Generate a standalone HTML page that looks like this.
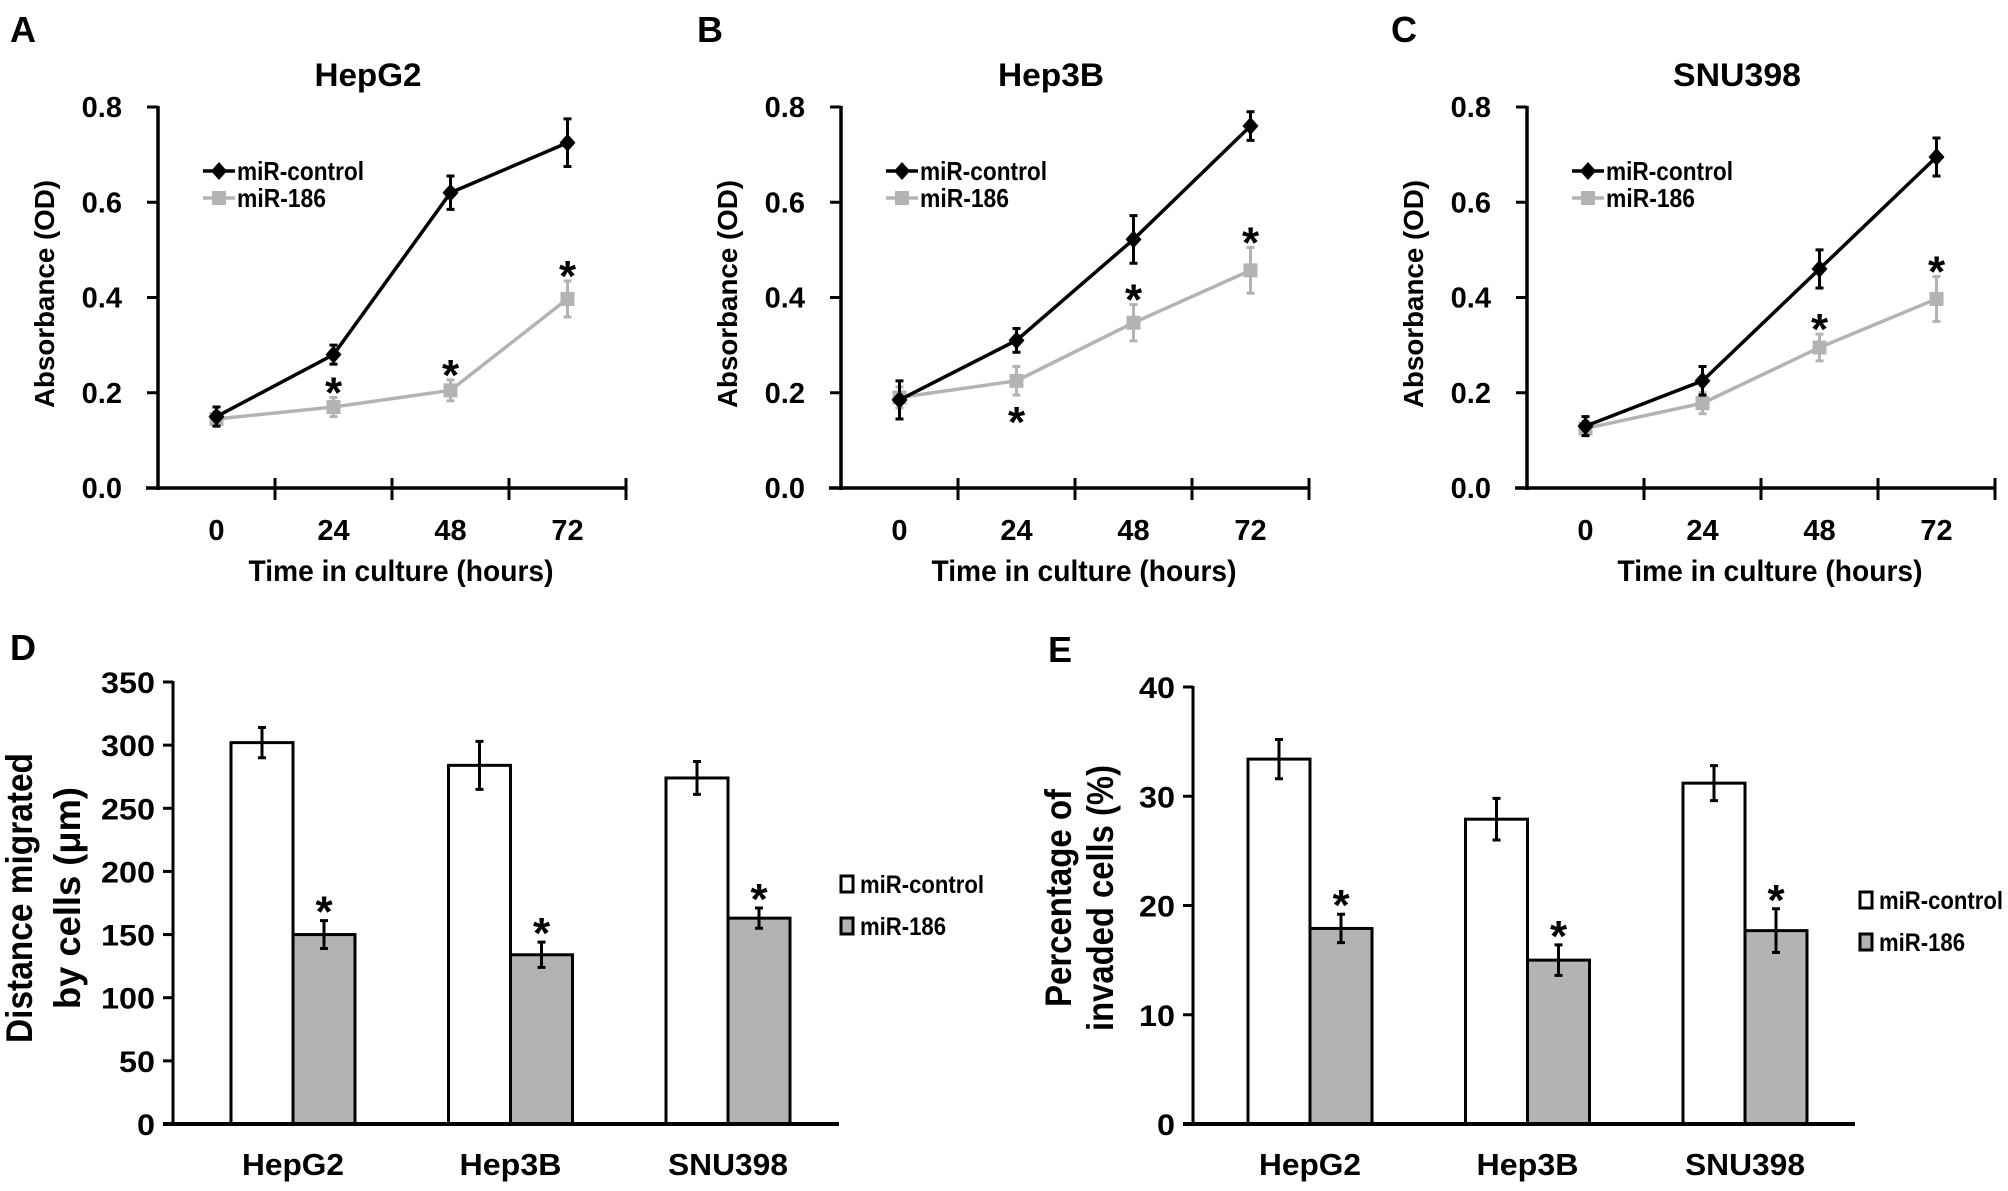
<!DOCTYPE html>
<html><head><meta charset="utf-8"><style>
html,body{margin:0;padding:0;background:#fff;}
svg{display:block;font-family:"Liberation Sans",sans-serif;font-weight:bold;}
</style></head><body>
<svg id="fig" width="2008" height="1191" viewBox="0 0 2008 1191" xmlns="http://www.w3.org/2000/svg"></svg>
<script>
// ---------- data ----------
const timeLabels = ['0','24','48','72'];
const absTickLabels = ['0.0','0.2','0.4','0.6','0.8'];
const absTickValues = [0,0.2,0.4,0.6,0.8];
const hepg2Control = [0.15,0.28,0.62,0.725];
const hepg2ControlErr = [0.02,0.02,0.035,0.05];
const hepg2Mir = [0.145,0.17,0.205,0.397];
const hepg2MirErr = [0.015,0.02,0.022,0.038];
const hepg2Stars = [0,1,1,1];
const hep3bControl = [0.185,0.31,0.522,0.76];
const hep3bControlErr = [0.04,0.025,0.05,0.03];
const hep3bMir = [0.19,0.225,0.347,0.457];
const hep3bMirErr = [0.022,0.03,0.038,0.048];
const hep3bStars = [0,-1,1,1];
const snu398Control = [0.13,0.225,0.46,0.695];
const snu398ControlErr = [0.02,0.03,0.04,0.04];
const snu398Mir = [0.125,0.178,0.295,0.397];
const snu398MirErr = [0.015,0.022,0.028,0.047];
const snu398Stars = [0,0,1,1];

const cellLines = ['HepG2','Hep3B','SNU398'];
const migTickValues = [0,50,100,150,200,250,300,350];
const migTickLabels = ['0','50','100','150','200','250','300','350'];
const migrationControl = [302,284,274];
const migrationControlErr = [12,19,13];
const migrationMir = [150,134,163];
const migrationMirErr = [11,10,8];
const invTickValues = [0,10,20,30,40];
const invTickLabels = ['0','10','20','30','40'];
const invasionControl = [33.4,27.9,31.2];
const invasionControlErr = [1.8,1.9,1.6];
const invasionMir = [17.9,15.0,17.7];
const invasionMirErr = [1.3,1.4,2.0];

const NS = 'http://www.w3.org/2000/svg';
const svg = document.getElementById('fig');
const GRAY = '#b3b3b3';
function mk(tag, attrs, parent, text){
  const e = document.createElementNS(NS, tag);
  for (const k in attrs) e.setAttribute(k, attrs[k]);
  if (text !== undefined) e.textContent = text;
  (parent || svg).appendChild(e);
  return e;
}
function label(txt, x, y, size, anchor, parent, len, rot){
  const a = {x:x, y:y, 'font-size':size, 'text-anchor':anchor||'middle', fill:'#000'};
  if (len) { a.textLength = len; a.lengthAdjust = 'spacingAndGlyphs'; }
  if (rot) a.transform = 'rotate(-90 '+x+' '+y+')';
  return mk('text', a, parent, txt);
}

// panel letters
[['A',10,42],['B',697,42],['C',1391,42],['D',10,660],['E',1048,662]].forEach(p=>{
  const t = label(p[0], p[1], p[2], 36, 'start');
  
  
});

// ---------- line charts ----------
const Y0 = 488, PER = 476.25;
function yAbs(v){ return Y0 - v*PER; }
const linePanels = [
  {name:'hepg2', title:'HepG2', ax:158, tw:107, ctrl:hepg2Control, ce:hepg2ControlErr, mir:hepg2Mir, me:hepg2MirErr, stars:hepg2Stars},
  {name:'hep3b', title:'Hep3B', ax:841, tw:106, ctrl:hep3bControl, ce:hep3bControlErr, mir:hep3bMir, me:hep3bMirErr, stars:hep3bStars},
  {name:'snu398', title:'SNU398', ax:1527, tw:128, ctrl:snu398Control, ce:snu398ControlErr, mir:snu398Mir, me:snu398MirErr, stars:snu398Stars}
];
linePanels.forEach(p=>{
  const g = mk('g', {});
  
  
  const W = 468, step = W/4;
  const xAt = i => p.ax + step*(i+0.5);
  const t = label(p.title, p.ax+210, 86, 32, 'middle', g, p.tw);
  
  
  const ya = mk('line', {x1:p.ax, y1:yAbs(0.8)-1, x2:p.ax, y2:Y0+2, stroke:'#000','stroke-width':3.5}, g);
  
  
  const xa = mk('line', {x1:p.ax-12, y1:Y0, x2:p.ax+W, y2:Y0, stroke:'#000','stroke-width':3.5}, g);
  
  
  absTickValues.forEach((v,i)=>{
    mk('line', {x1:p.ax-11, y1:yAbs(v), x2:p.ax, y2:yAbs(v), stroke:'#000','stroke-width':3}, g);
    const tl = label(absTickLabels[i], p.ax-36, yAbs(v)+10, 29, 'end', g);
    
    
  });
  for (let i=1;i<=4;i++){
    mk('line', {x1:p.ax+step*i, y1:Y0-10, x2:p.ax+step*i, y2:Y0+12, stroke:'#000','stroke-width':3}, g);
  }
  timeLabels.forEach((s,i)=>{
    const tl = label(s, xAt(i), 540, 29, 'middle', g);
    
    
  });
  const xt = label('Time in culture (hours)', p.ax+243, 581, 30, 'middle', g, 305);
  
  
  const yt = label('Absorbance (OD)', p.ax-104, 294, 28, 'middle', g, 228, true);
  
  
  function series(vals, errs, color, kind){
    const pts = vals.map((v,i)=>xAt(i)+','+yAbs(v)).join(' ');
    const pl = mk('polyline', {points:pts, fill:'none', stroke:color, 'stroke-width':3.5}, g);
    
    
    vals.forEach((v,i)=>{
      const x = xAt(i), y1 = yAbs(v+errs[i]), y2 = yAbs(v-errs[i]);
      const eb = mk('path', {d:'M'+x+' '+y1+'V'+y2+'M'+(x-4)+' '+y1+'H'+(x+4)+'M'+(x-4)+' '+y2+'H'+(x+4), stroke:color,'stroke-width':3,fill:'none'}, g);
      
      
      let m;
      if (kind==='control') m = mk('path', {d:'M'+x+' '+(yAbs(v)-9)+'L'+(x+8)+' '+yAbs(v)+'L'+x+' '+(yAbs(v)+9)+'L'+(x-8)+' '+yAbs(v)+'Z', fill:color}, g);
      else m = mk('rect', {x:x-7, y:yAbs(v)-7, width:14, height:14, fill:color}, g);
      
      
    });
  }
  series(p.mir, p.me, GRAY, 'mir186');
  series(p.ctrl, p.ce, '#000', 'control');
  p.stars.forEach((s,i)=>{
    if (!s) return;
    const y = s>0 ? yAbs(p.mir[i]+p.me[i])+10 : yAbs(p.mir[i]-p.me[i])+42;
    const st = label('*', xAt(i), y, 44, 'middle', g);
    
    
  });
  const lx = p.ax+45;
  const l1 = mk('g', {}, g);
  
  
  mk('line', {x1:lx, y1:171, x2:lx+32, y2:171, stroke:'#000','stroke-width':3.5}, l1);
  mk('path', {d:'M'+(lx+16)+' 162L'+(lx+24)+' 171L'+(lx+16)+' 180L'+(lx+8)+' 171Z', fill:'#000'}, l1);
  label('miR-control', lx+34, 180, 26, 'start', l1, 127);
  const l2 = mk('g', {}, g);
  
  
  mk('line', {x1:lx, y1:198, x2:lx+32, y2:198, stroke:GRAY,'stroke-width':3.5}, l2);
  mk('rect', {x:lx+9, y:191, width:14, height:14, fill:GRAY}, l2);
  label('miR-186', lx+34, 207, 26, 'start', l2, 89);
});

// ---------- bar charts ----------
const BY0 = 1124;
const barPanels = [
  {name:'migration', ax:173, axEnd:839, yTop:682, max:350, ticks:migTickValues, tl:migTickLabels,
   ctrl:migrationControl, ce:migrationControlErr, mir:migrationMir, me:migrationMirErr,
   c0:293, titles:['Distance migrated','by cells (\u03bcm)'], tx:[19,67], tlen:[290,222], legX:839, legY:[884,926]},
  {name:'invasion', ax:1193, axEnd:1855, yTop:687, max:40, ticks:invTickValues, tl:invTickLabels,
   ctrl:invasionControl, ce:invasionControlErr, mir:invasionMir, me:invasionMirErr,
   c0:1310, titles:['Percentage of','invaded cells (%)'], tx:[1058,1100], tlen:[218,266], legX:1858, legY:[900,942]}
];
barPanels.forEach(p=>{
  const g = mk('g', {});
  
  
  const y = v => BY0 - v*(BY0-p.yTop)/p.max;
  const gStep = 217.5, bw = 62;
  const cx = i => p.c0 + gStep*i;
  p.ticks.forEach((v,i)=>{
    mk('line', {x1:p.ax-10, y1:y(v), x2:p.ax, y2:y(v), stroke:'#000','stroke-width':3}, g);
    const s = p.tl[i];
    const t = label(s, p.ax-18, y(v)+11, 30, 'end', g, 18*s.length);
    
    
  });
  p.titles.forEach((s,i)=>{
    const t = label(s, p.tx[i]+13, 898, 37, 'middle', g, p.tlen[i], true);
    
    
  });
  cellLines.forEach((c,i)=>{
    const b1 = mk('rect', {x:cx(i)-bw, y:y(p.ctrl[i]), width:bw, height:BY0-y(p.ctrl[i]), fill:'#fff', stroke:'#000','stroke-width':3}, g);
    
    
    const b2 = mk('rect', {x:cx(i), y:y(p.mir[i]), width:bw, height:BY0-y(p.mir[i]), fill:GRAY, stroke:'#000','stroke-width':3}, g);
    
    
    [[cx(i)-bw/2, p.ctrl[i], p.ce[i]],[cx(i)+bw/2, p.mir[i], p.me[i]]].forEach(e=>{
      const x=e[0], a=y(e[1]+e[2]), b=y(e[1]-e[2]);
      const eb = mk('path', {d:'M'+x+' '+a+'V'+b+'M'+(x-4)+' '+a+'H'+(x+4)+'M'+(x-4)+' '+b+'H'+(x+4), stroke:'#000','stroke-width':3,fill:'none'}, g);
      
      
    });
    const st = label('*', cx(i)+bw/2, y(p.mir[i]+p.me[i])+6, 44, 'middle', g);
    
    
    const cl = label(c, cx(i), 1175, 31, 'middle', g, c==='SNU398'?120:102);
    
    
  });
  const ya = mk('line', {x1:p.ax, y1:p.yTop-1, x2:p.ax, y2:BY0+2, stroke:'#000','stroke-width':3}, g);
  
  
  const xa = mk('line', {x1:p.ax-10, y1:BY0, x2:p.axEnd, y2:BY0, stroke:'#000','stroke-width':4}, g);
  
  
  const l1 = mk('g', {}, g);
  
  
  mk('rect', {x:p.legX+2, y:p.legY[0]-8, width:12, height:16, fill:'#fff', stroke:'#000','stroke-width':3}, l1);
  label('miR-control', p.legX+21, p.legY[0]+9, 25, 'start', l1, 124);
  const l2 = mk('g', {}, g);
  
  
  mk('rect', {x:p.legX+2, y:p.legY[1]-8, width:12, height:16, fill:GRAY, stroke:'#000','stroke-width':3}, l2);
  label('miR-186', p.legX+21, p.legY[1]+9, 25, 'start', l2, 86);
});
</script>
</body></html>
